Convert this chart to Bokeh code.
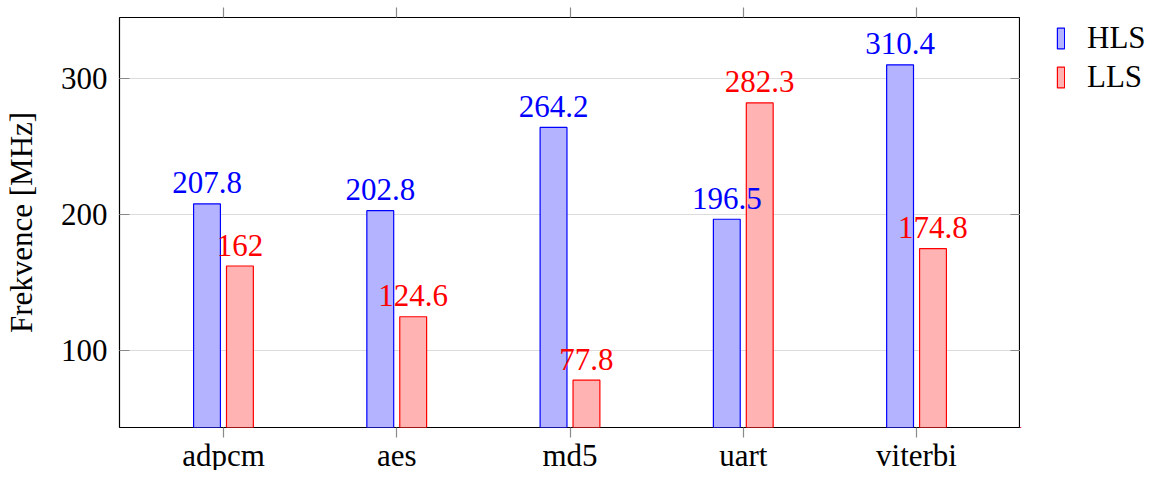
import numpy as np
from bokeh.plotting import figure
from bokeh.layouts import row
from bokeh.models import (Range1d, FixedTicker, LinearAxis, Legend, LegendItem, ColumnDataSource)
from bokeh.core.properties import value
from bokeh.embed import file_html
from bokeh.resources import INLINE

categories = ["adpcm", "aes", "md5", "uart", "viterbi"]
hls = [207.8, 202.8, 264.2, 196.5, 310.4]
lls = [162, 124.6, 77.8, 282.3, 174.8]
series_names = ["HLS", "LLS"]
y_ticks = [100, 200, 300]

FONT = "Liberation Serif"
FS = "31px"
HLS_FILL, HLS_LINE = "#b3b3ff", "#0000ff"
LLS_FILL, LLS_LINE = "#ffb3b3", "#ff0000"
idx = np.arange(len(categories))
off = 0.095
bw = 0.155

ymin = min(hls + lls)
ymax = max(hls + lls)
pad = 0.15 * (ymax - ymin)

p = figure(frame_width=901, frame_height=410, output_backend="svg", toolbar_location=None,
           x_range=Range1d(-0.6, 4.6), y_range=Range1d(ymin - pad, ymax + pad),
           min_border_left=0, min_border_right=0, min_border_top=0, min_border_bottom=50,
           x_axis_location="below")
p.background_fill_color = "white"
p.border_fill_color = "white"
p.outline_line_color = "black"
p.outline_line_width = 1.2

src_h = ColumnDataSource(dict(x=idx - off, top=hls, lab=["{:g}".format(v) for v in hls]))
src_l = ColumnDataSource(dict(x=idx + off, top=lls, lab=["{:g}".format(v) for v in lls]))

p.vbar(x="x", top="top", bottom=0, width=bw, source=src_h,
       fill_color=HLS_FILL, line_color=HLS_LINE, line_width=1.2)
p.vbar(x="x", top="top", bottom=0, width=bw, source=src_l,
       fill_color=LLS_FILL, line_color=LLS_LINE, line_width=1.2)

p.text(x="x", y="top", text="lab", source=src_h, text_align="center", text_baseline="alphabetic",
       y_offset=-21, text_color=HLS_LINE, text_font=value(FONT), text_font_size=FS)
p.text(x="x", y="top", text="lab", source=src_l, text_align="center", text_baseline="alphabetic",
       y_offset=-21, text_color=LLS_LINE, text_font=value(FONT), text_font_size=FS)

tick_color = "#8a8a8a"

# bottom axis
xa = p.xaxis[0]
xa.ticker = FixedTicker(ticks=list(idx))
xa.major_label_overrides = {int(i): c for i, c in zip(idx, categories)}
xa.major_label_text_font = FONT
xa.major_label_text_font_size = FS
xa.major_label_text_color = "black"
xa.major_tick_out = 10
xa.major_tick_in = 0
xa.major_tick_line_color = tick_color
xa.major_tick_line_width = 1.2
xa.minor_tick_line_color = None
xa.axis_line_color = None
xa.major_label_standoff = 0

# left axis
ya = p.yaxis[0]
ya.ticker = FixedTicker(ticks=y_ticks)
ya.major_label_text_font = FONT
ya.major_label_text_font_size = FS
ya.major_label_text_color = "black"
ya.major_tick_in = 10
ya.major_tick_out = 0
ya.major_tick_line_color = tick_color
ya.major_tick_line_width = 1.2
ya.minor_tick_line_color = None
ya.axis_line_color = None
ya.major_label_standoff = 12
ya.axis_label = "Frekvence [MHz]"
ya.axis_label_text_font = FONT
ya.axis_label_text_font_size = FS
ya.axis_label_text_font_style = "normal"
ya.axis_label_text_color = "black"
ya.axis_label_standoff = 19

# top axis (ticks only)
ta = LinearAxis(ticker=FixedTicker(ticks=list(idx)), major_label_overrides={int(i): "" for i in idx},
                major_tick_out=10, major_tick_in=0, major_tick_line_color=tick_color,
                major_tick_line_width=1.2, minor_tick_line_color=None, axis_line_color=None,
                major_label_standoff=7, major_label_text_font_size="0px")
p.add_layout(ta, "above")

# right axis (ticks only)
ra = LinearAxis(ticker=FixedTicker(ticks=y_ticks), major_label_overrides={t: "" for t in y_ticks},
                major_tick_out=0, major_tick_in=10, major_tick_line_color=tick_color,
                major_tick_line_width=1.2, minor_tick_line_color=None, axis_line_color=None,
                major_label_standoff=0, major_label_text_font_size="0px")
p.add_layout(ra, "right")

p.xgrid.grid_line_color = None
p.ygrid.ticker = FixedTicker(ticks=y_ticks)
p.ygrid.grid_line_color = "#dcdcdc"
p.ygrid.grid_line_width = 1.2

# legend panel: a second figure whose view range lies away from the bars,
# so only its legend shows
pl = figure(frame_width=128, frame_height=410, output_backend="svg", toolbar_location=None,
            x_range=Range1d(20, 21), y_range=Range1d(1000, 1001), x_axis_type=None, y_axis_type=None,
            min_border_left=0, min_border_right=0, min_border_top=17, min_border_bottom=50)
pl.outline_line_color = None
pl.xgrid.grid_line_color = None
pl.ygrid.grid_line_color = None
pl.background_fill_color = "white"
pl.border_fill_color = "white"
lh = pl.vbar(x="x", top="top", bottom=0, width=bw, source=src_h,
             fill_color=HLS_FILL, line_color=HLS_LINE, line_width=1.2)
ll = pl.vbar(x="x", top="top", bottom=0, width=bw, source=src_l,
             fill_color=LLS_FILL, line_color=LLS_LINE, line_width=1.2)
legend = Legend(items=[LegendItem(label=series_names[0], renderers=[lh], index=0),
                       LegendItem(label=series_names[1], renderers=[ll], index=0)],
                location=(36, 332), orientation="vertical",
                glyph_width=9, glyph_height=26, label_standoff=22, spacing=3,
                padding=0, margin=0, border_line_color=None, background_fill_alpha=0,
                label_text_font=FONT, label_text_font_size=FS, label_text_color="black",
                label_height=36)
pl.add_layout(legend, "center")

layout = row(p, pl)
open("out.html", "w").write(file_html(layout, INLINE))
